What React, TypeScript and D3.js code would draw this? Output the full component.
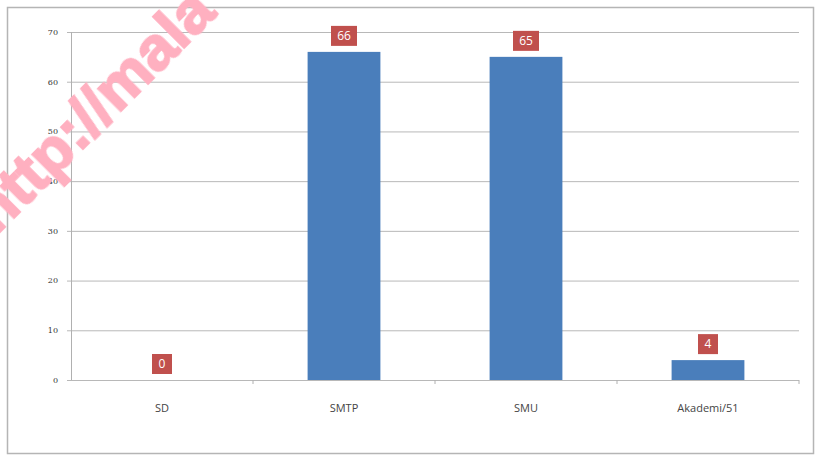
import React, { useEffect, useRef } from "react"
import * as d3 from "d3"

// education level counts
const categories = ["SD", "SMTP", "SMU", "Akademi/51"]
const values = [0, 66, 65, 4]
const yTicks = [0, 10, 20, 30, 40, 50, 60, 70]

const W = 817
const H = 456

export default function App() {
    const ref = useRef<SVGSVGElement>(null)

    useEffect(() => {
        const svg = d3.select(ref.current)
        svg.selectAll("*").remove()

        const margin = { left: 71, right: 18, top: 32, bottom: 76 }

        const x = d3
            .scaleBand()
            .domain(categories)
            .range([margin.left, W - margin.right])
            .paddingInner(0.6)
            .paddingOuter(0.3)
        const y = d3
            .scaleLinear()
            .domain([0, 70])
            .range([H - margin.bottom, margin.top])

        // outer frame
        svg.append("rect")
            .attr("x", 7.5)
            .attr("y", 7.5)
            .attr("width", W - 11)
            .attr("height", H - 10)
            .attr("fill", "#fff")
            .attr("stroke", "#b5b5b5")
            .attr("stroke-width", 1.5)

        // gridlines
        svg.append("g")
            .selectAll("line")
            .data(yTicks)
            .enter()
            .append("line")
            .attr("x1", margin.left - 4)
            .attr("x2", W - margin.right)
            .attr("y1", d => y(d) + 0.5)
            .attr("y2", d => y(d) + 0.5)
            .attr("stroke", "#b8b8b8")
            .attr("stroke-width", 1)

        // y tick labels
        svg.append("g")
            .selectAll("text")
            .data(yTicks)
            .enter()
            .append("text")
            .attr("x", 58)
            .attr("y", d => y(d))
            .attr("dy", "0.35em")
            .attr("text-anchor", "end")
            .attr("font-family", "DejaVu Serif, serif")
            .attr("font-size", 8)
            .attr("fill", "#333")
            .text(d => d)

        // y axis line
        svg.append("line")
            .attr("x1", margin.left + 0.5)
            .attr("x2", margin.left + 0.5)
            .attr("y1", y(70))
            .attr("y2", y(0))
            .attr("stroke", "#b0b0b0")

        // x tick marks between categories
        const bounds = categories.map(c => (x(c) as number) - (x.step() - x.bandwidth()) / 2)
        bounds.push(W - margin.right)
        svg.append("g")
            .selectAll("line")
            .data(bounds.slice(1))
            .enter()
            .append("line")
            .attr("x1", d => d)
            .attr("x2", d => d)
            .attr("y1", y(0))
            .attr("y2", y(0) + 4)
            .attr("stroke", "#b0b0b0")

        // bars
        svg.append("g")
            .selectAll("rect")
            .data(values)
            .enter()
            .append("rect")
            .attr("x", (d, i) => x(categories[i]) as number)
            .attr("y", d => y(d))
            .attr("width", x.bandwidth())
            .attr("height", d => y(0) - y(d))
            .attr("fill", "#4a7ebb")

        // data labels
        const lab = svg.append("g")
            .selectAll("g")
            .data(values)
            .enter()
            .append("g")
            .attr("transform", (d, i) => {
                const cx = (x(categories[i]) as number) + x.bandwidth() / 2
                return `translate(${cx},${y(d) - 16})`
            })
        lab.append("rect")
            .attr("x", d => (String(d).length > 1 ? -13 : -10))
            .attr("y", -10)
            .attr("width", d => (String(d).length > 1 ? 26 : 20))
            .attr("height", 20)
            .attr("fill", "#c0504d")
        lab.append("text")
            .attr("text-anchor", "middle")
            .attr("dy", "0.36em")
            .attr("font-family", "Open Sans, sans-serif")
            .attr("font-size", 12)
            .attr("fill", "#fff")
            .text(d => d)

        // category labels
        svg.append("g")
            .selectAll("text")
            .data(categories)
            .enter()
            .append("text")
            .attr("x", d => (x(d) as number) + x.bandwidth() / 2)
            .attr("y", y(0) + 28)
            .attr("dy", "0.35em")
            .attr("text-anchor", "middle")
            .attr("font-family", "Open Sans, sans-serif")
            .attr("font-size", 11)
            .attr("fill", "#444")
            .text(d => d)

        // watermark
        svg.append("text")
            .attr("transform", "translate(-4,236) rotate(-45)")
            .attr("font-family", "Liberation Sans, Arial, sans-serif")
            .attr("font-weight", "bold")
            .attr("font-size", 62)
            .attr("fill", "#ffb0c0")
            .attr("stroke", "#ffb0c0")
            .attr("stroke-width", 2)
            .text("http://mala")
    }, [])

    return (
        <div style={{ position: "fixed", left: 0, top: 0 }}>
            <svg ref={ref} width={W} height={H} style={{ display: "block" }} />
        </div>
    )
}
